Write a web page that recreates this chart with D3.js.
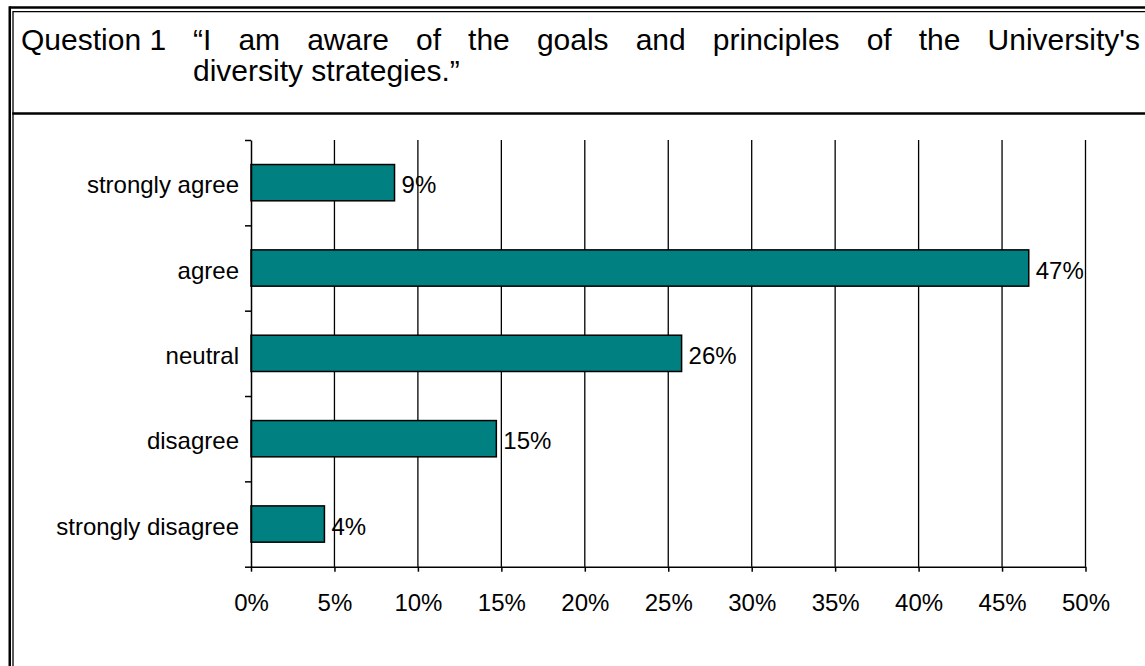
<!DOCTYPE html>
<html>
<head>
<meta charset="utf-8">
<script src="https://cdn.jsdelivr.net/npm/d3@7"></script>
<style>
  html, body { margin: 0; padding: 0; background: #fff; }
  svg { display: block; }
  text { font-family: "Liberation Sans", Arial, Helvetica, sans-serif; fill: #000; }
</style>
</head>
<body>
<svg id="chart" width="1145" height="666"></svg>
<script>
// Survey responses, percent of respondents
const categories = ["strongly agree", "agree", "neutral", "disagree", "strongly disagree"];
const values = [8.6, 46.6, 25.8, 14.7, 4.4];
const xTickValues = [0, 5, 10, 15, 20, 25, 30, 35, 40, 45, 50];

const questionLabel = "Question 1";
const questionLine1 = ["\u201CI", "am", "aware", "of", "the", "goals", "and", "principles", "of", "the", "University's"];
const questionLine2 = "diversity strategies.\u201D";

const W = 1145, H = 666;
const svg = d3.select("#chart");

// ---- table frame ----
const frame = svg.append("g");
// outer (thick) and inner (thin) rules on top and left
frame.append("line").attr("x1", 9.75).attr("x2", W).attr("y1", 7.5).attr("y2", 7.5)
  .attr("stroke", "#000").attr("stroke-width", 2.5);
frame.append("line").attr("x1", 9.75).attr("x2", 9.75).attr("y1", 6.25).attr("y2", H)
  .attr("stroke", "#000").attr("stroke-width", 2.5);
frame.append("line").attr("x1", 13).attr("x2", W).attr("y1", 11.7).attr("y2", 11.7)
  .attr("stroke", "#000").attr("stroke-width", 1.3);
frame.append("line").attr("x1", 13).attr("x2", 13).attr("y1", 11.05).attr("y2", H)
  .attr("stroke", "#000").attr("stroke-width", 1.3);
// separator between the heading row and the chart row
frame.append("line").attr("x1", 12.35).attr("x2", W).attr("y1", 113.5).attr("y2", 113.5)
  .attr("stroke", "#000").attr("stroke-width", 2.5);

// ---- heading ----
const head = svg.append("g").style("font-size", "30px");
head.append("text").attr("x", 21).attr("y", 49.5).text(questionLabel);

// first line is justified between the column edges
const lineLeft = 193, lineRight = 1140;
const words = head.selectAll("text.w").data(questionLine1).join("text")
  .attr("class", "w").attr("y", 49.5).text(d => d);
const widths = [];
words.each(function () { widths.push(this.getComputedTextLength()); });
const gap = (lineRight - lineLeft - d3.sum(widths)) / (widths.length - 1);
let cx = lineLeft;
words.attr("x", (d, i) => { const x = cx; cx += widths[i] + gap; return x; });
head.append("text").attr("x", lineLeft).attr("y", 80.5).text(questionLine2);

// ---- chart ----
const plotLeft = 251, plotRight = 1085.5, plotTop = 140, plotBottom = 566.7;

const x = d3.scaleLinear().domain([0, 50]).range([plotLeft, plotRight]);
const y = d3.scaleBand().domain(categories).range([plotTop, plotBottom])
  .paddingInner(0.575).paddingOuter(0.2875);
const yEdges = d3.scaleLinear().domain([0, categories.length]).range([plotBottom, plotTop]);

const chart = svg.append("g").style("font-size", "24px");

// vertical gridlines
chart.append("g").selectAll("line").data(xTickValues.slice(1)).join("line")
  .attr("x1", d => x(d)).attr("x2", d => x(d))
  .attr("y1", plotTop).attr("y2", plotBottom)
  .attr("stroke", "#000").attr("stroke-width", 1.3);

// bars
chart.append("g").selectAll("rect").data(values).join("rect")
  .attr("x", x(0))
  .attr("y", (d, i) => y(categories[i]))
  .attr("width", d => x(d) - x(0))
  .attr("height", y.bandwidth())
  .attr("fill", "#008080")
  .attr("stroke", "#000").attr("stroke-width", 1.5);

// value labels
const fmt = d => d3.format(".0f")(d) + "%";
chart.append("g").selectAll("text").data(values).join("text")
  .attr("x", d => x(d) + 7)
  .attr("y", (d, i) => y(categories[i]) + y.bandwidth() / 2 + 10.5)
  .text(fmt);

// x axis
const xAxis = d3.axisBottom(x).tickValues(xTickValues)
  .tickFormat(d => d + "%").tickSize(5).tickSizeOuter(0).tickPadding(22);
const gx = chart.append("g").attr("transform", `translate(0,${plotBottom})`).call(xAxis);
gx.select(".domain").attr("stroke", "#000").attr("stroke-width", 1.5);
gx.selectAll(".tick line").attr("stroke", "#000").attr("stroke-width", 1.5);
gx.selectAll(".tick text").attr("font-size", null).attr("font-family", null)
  .style("font-size", "24px").attr("fill", "#000");

// y axis: ticks on category boundaries
const yAxis = d3.axisLeft(yEdges).tickValues(d3.range(categories.length + 1))
  .tickFormat("").tickSize(6).tickSizeOuter(0);
const gy = chart.append("g").attr("transform", `translate(${plotLeft},0)`).call(yAxis);
gy.select(".domain").attr("stroke", "#000").attr("stroke-width", 1.5);
gy.selectAll(".tick line").attr("stroke", "#000").attr("stroke-width", 1.5);

// category labels
chart.append("g").selectAll("text").data(categories).join("text")
  .attr("x", plotLeft - 12)
  .attr("y", d => y(d) + y.bandwidth() / 2 + 10.5)
  .attr("text-anchor", "end")
  .text(d => d);
</script>
</body>
</html>
